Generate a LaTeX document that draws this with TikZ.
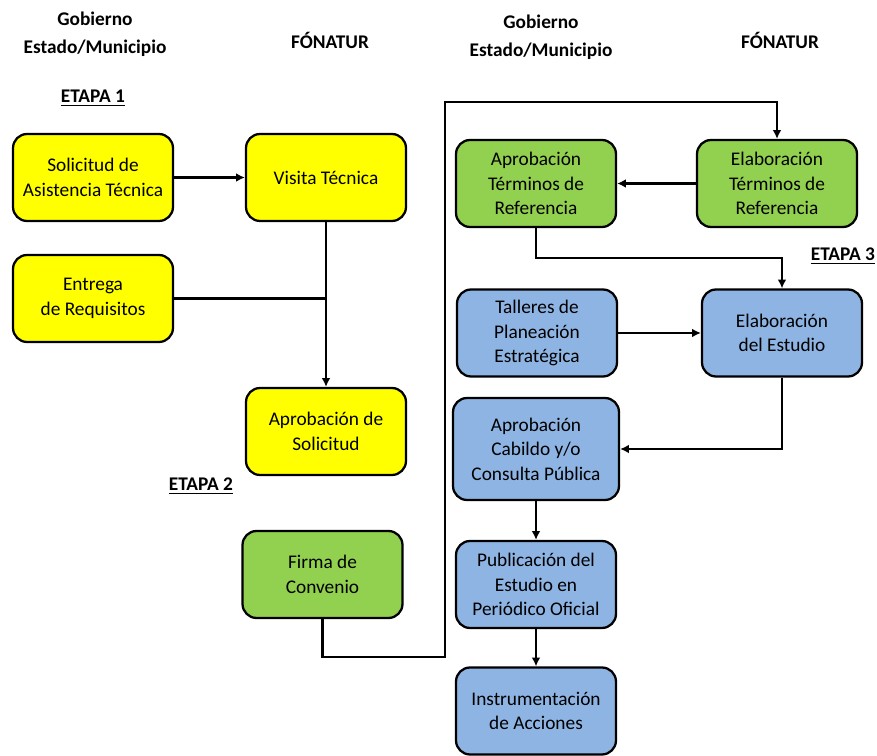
\documentclass[tikz,border=0pt]{standalone}
\usepackage{fontspec}
\setmainfont{Carlito}
\usetikzlibrary{arrows.meta}
\definecolor{amarillo}{HTML}{FFFF00}
\definecolor{verde}{HTML}{92D050}
\definecolor{azul}{HTML}{8EB4E3}
\begin{document}
\begin{tikzpicture}[
    x=0.02cm, y=-0.02cm,
    caja/.style={draw, line width=1.3pt, rounded corners=8pt, align=center,
        minimum width=3.2cm, minimum height=1.74cm, inner sep=2pt,
        font=\fontsize{11}{14}\selectfont},
    cajaA/.style={caja, fill=amarillo},
    cajaV/.style={caja, fill=verde},
    cajaZ/.style={caja, fill=azul},
    flecha/.style={line width=1.4pt, -{Latex[length=5pt,width=5pt]}},
    linea/.style={line width=1.4pt},
    titulo/.style={align=center, font=\fontsize{11}{16}\selectfont\bfseries},
    etapa/.style={font=\fontsize{11}{12}\selectfont\bfseries}
]
\useasboundingbox (0,0) rectangle (877,756);
% encabezados
\node[titulo] (gob1) at (95,34) {Gobierno\\Estado/Municipio};
\node[titulo] (fon1) at (330,40) {FÓNATUR};
\node[titulo] (gob2) at (541,37) {Gobierno\\Estado/Municipio};
\node[titulo] (fon2) at (780,40) {FÓNATUR};
\node[etapa] (et1) at (93,98) {\underline{ETAPA 1}};
\node[etapa] (et2) at (201,486) {\underline{ETAPA 2}};
\node[etapa] (et3) at (843,256) {\underline{ETAPA 3}};
% etapa 1
\node[cajaA] (sol) at (93,177.5) {Solicitud de\\Asistencia Técnica};
\node[cajaA] (visita) at (326,177.5) {Visita Técnica};
\node[cajaA] (entrega) at (93,298.5) {Entrega\\de Requisitos};
\node[cajaA] (aprob) at (326,431.5) {Aprobación de\\Solicitud};
% etapa 2
\node[cajaV] (firma) at (322.5,574.5) {Firma de\\Convenio};
\node[cajaV] (aprobTdR) at (536,183.5) {Aprobación\\Términos de\\Referencia};
\node[cajaV] (elabTdR) at (777,183.5) {Elaboración\\Términos de\\Referencia};
% etapa 3
\node[cajaZ] (talleres) at (537,333) {Talleres de\\Planeación\\Estratégica};
\node[cajaZ] (elabEst) at (782,333) {Elaboración\\del Estudio};
\node[cajaZ, minimum width=3.32cm, minimum height=2.04cm] (cabildo) at (536,449)
    {Aprobación\\Cabildo y/o\\Consulta Pública};
\node[cajaZ] (publica) at (536,584.5) {Publicación del\\Estudio en\\Periódico Oficial};
\node[cajaZ] (instr) at (536,711) {Instrumentación\\de Acciones};
% conectores
\coordinate (k1) at (445,657);
\coordinate (k2) at (445,102);
\coordinate (k3) at (536,258);
\draw[flecha] (sol) -- (visita);
\draw[flecha] (visita) -- (aprob);
\draw[linea] (entrega) -- (entrega -| visita);
\draw[flecha] (firma.south) |- (k1) -- (k2) -| (elabTdR.north);
\draw[flecha] (elabTdR) -- (aprobTdR);
\draw[flecha] (aprobTdR.south) -- (k3) -| (elabEst.north);
\draw[flecha] (talleres) -- (elabEst);
\draw[flecha] (elabEst.south) |- (cabildo.east);
\draw[flecha] (cabildo) -- (publica);
\draw[flecha] (publica) -- (instr);
\end{tikzpicture}
\end{document}
